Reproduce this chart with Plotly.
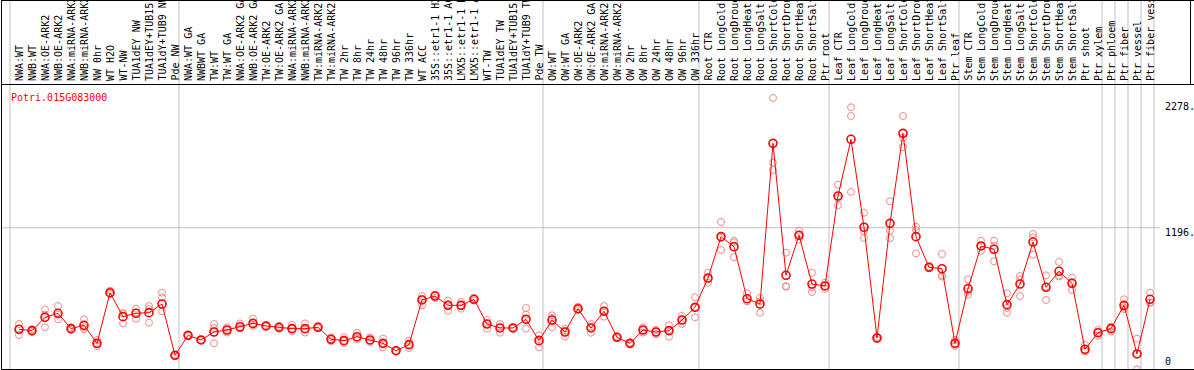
import plotly.graph_objects as go

# ---------------- data ----------------
samples = [
    "NWA:WT", "NWB:WT", "NWA:OE-ARK2", "NWB:OE-ARK2", "NWA:miRNA-ARK2", "NWB:miRNA-ARK2",
    "NW 0hr", "WT H2O", "WT-NW", "TUA1dEY NW", "TUA1dEY+TUB15", "TUA1dY+TUB9 NW", "Pde NW",
    "NWA:WT GA", "NWBWT GA", "TW:WT", "TW:WT GA", "NWA:OE-ARK2 GA", "NWB:OE-ARK2 GA",
    "TW:OE-ARK2", "TW:OE-ARK2 GA", "NWA:miRNA-ARK2", "NWB:miRNA-ARK2", "TW:miRNA-ARK2",
    "TW:miRNA-ARK2", "TW 2hr", "TW 8hr", "TW 24hr", "TW 48hr", "TW 96hr", "TW 336hr",
    "WT ACC", "35S::etr1-1 H2O", "35S::etr1-1 ACC", "LMX5::etr1-1 H2O", "LMX5::etr1-1 ACC",
    "WT-TW", "TUA1dEY TW", "TUA1dEY+TUB15", "TUA1dY+TUB9 TW", "Pde TW",
    "OW:WT", "OW:WT GA", "OW:OE-ARK2", "OW:OE-ARK2 GA", "OW:miRNA-ARK2", "OW:miRNA-ARK2",
    "OW 2hr", "OW 8hr", "OW 24hr", "OW 48hr", "OW 96hr", "OW 336hr",
    "Root CTR", "Root LongCold", "Root LongDrought", "Root LongHeat", "Root LongSalt",
    "Root ShortCold", "Root ShortDrought", "Root ShortHeat", "Root ShortSalt", "Ptr root",
    "Leaf CTR", "Leaf LongCold", "Leaf LongDrought", "Leaf LongHeat", "Leaf LongSalt",
    "Leaf ShortCold", "Leaf ShortDrought", "Leaf ShortHeat", "Leaf ShortSalt", "Ptr leaf",
    "Stem CTR", "Stem LongCold", "Stem LongDrought", "Stem LongHeat", "Stem LongSalt",
    "Stem ShortCold", "Stem ShortDrought", "Stem ShortHeat", "Stem ShortSalt", "Ptr shoot",
    "Ptr xylem", "Ptr phloem", "Ptr fiber", "Ptr vessel", "Ptr fiber vessel",
]

# index of first sample of each group (group separators)
group_starts = [0, 13, 41, 53, 63, 73, 84, 85, 86, 87, 88]

gene = "Potri.015G083000"

mean_vals = [
    289, 277, 396, 432, 295, 325, 164, 616, 402, 432, 438, 515, 57,
    235, 194, 265, 283, 312, 342, 319, 307, 295, 295, 307, 200, 188, 223, 194, 164, 98, 152,
    551, 586, 503, 503, 557, 336, 301, 301, 378, 188,
    372, 265, 473, 301, 450, 218, 164, 283, 265, 277, 372, 485,
    747, 1116, 1026, 562, 515, 1949, 771, 1128, 693, 676,
    1479, 1985, 1200, 212, 1235, 2038, 1116, 843, 830, 164,
    652, 1033, 1003, 509, 693, 1068, 664, 807, 700, 111, 259,
    295, 503, 69, 557,
]

rep1 = [
    336, 289, 467, 497, 307, 378, 194, 634, 432, 473, 497, 616, 60,
    240, 194, 336, 307, 342, 384, 325, 319, 330, 342, 318, 218, 218, 259, 218, 206, 98, 188,
    586, 598, 545, 533, 569, 372, 336, 307, 479, 235,
    414, 295, 491, 336, 497, 225, 170, 307, 283, 325, 408, 575,
    794, 1247, 1080, 610, 569, 2354, 973, 1169, 794, 705,
    1580, 2271, 1330, 220, 1432, 2193, 1205, 850, 961, 194,
    735, 1080, 1080, 610, 765, 1140, 771, 890, 750, 150, 283,
    313, 557, 205, 616,
]

rep2 = [
    237, 265, 307, 378, 283, 307, 140, 604, 342, 384, 348, 575, 50,
    230, 190, 164, 260, 295, 319, 313, 295, 270, 260, 300, 183, 164, 200, 176, 128, 95, 122,
    503, 570, 455, 473, 545, 295, 259, 295, 420, 128,
    307, 223, 460, 259, 402, 212, 160, 259, 247, 223, 337, 396,
    705, 997, 932, 540, 438, 1776, 669, 1090, 622, 650,
    1396, 2193, 1104, 200, 1104, 1914, 967, 836, 771, 140,
    598, 990, 896, 438, 586, 955, 551, 760, 640, 90, 230,
    270, 470, -68, 530,
]

rep3 = [
    295, 277, 420, 420, 295, 290, 158, 610, 432, 440, 470, 450, 62,
    235, 198, 300, 283, 300, 330, 319, 307, 295, 290, 305, 200, 185, 215, 190, 160, 100, 150,
    560, 590, 510, 503, 557, 340, 305, 301, 295, 200,
    390, 275, 470, 305, 450, 218, 164, 283, 265, 283, 372, 485,
    745, 1105, 1066, 540, 540, 1711, 675, 1128, 665, 676,
    1460, 1515, 1165, 215, 1170, 2000, 1175, 843, 760, 160,
    625, 1030, 1035, 480, 730, 1110, 670, 770, 710, 95, 265,
    300, 485, 70, 525,
]

# ---------------- geometry helpers (pixel layout of the original) ----------------
W, H = 1194, 370
ML, MR, MT, MB = 1, 2, 84, 1
PW = W - ML - MR          # plot width in px
PH = H - MT - MB          # plot height in px
PX_PER_COL = 13.0
first_px = 19.0
x0 = -(first_px - ML) / PX_PER_COL
x1 = x0 + PW / PX_PER_COL
Y0_PX = 361.7             # pixel of value 0
PX_PER_UNIT = 134.0 / 1196.0
y_top = (Y0_PX - MT) / PX_PER_UNIT
y_bot = (Y0_PX - (H - MB)) / PX_PER_UNIT


def py(px):  # pixel y -> paper y
    return 1 - (px - MT) / PH


def pxp(px):  # pixel x -> paper x
    return (px - ML) / PW


xs = list(range(len(samples)))

fig = go.Figure()

rep_color = "#ee8c8c"
for reps in (rep1, rep2, rep3):
    fig.add_trace(go.Scatter(
        x=xs, y=reps, mode="markers",
        marker=dict(symbol="circle-open", size=7, color=rep_color, line=dict(width=1, color=rep_color)),
        hoverinfo="skip", showlegend=False,
    ))

fig.add_trace(go.Scatter(
    x=xs, y=mean_vals, mode="lines+markers",
    line=dict(color="#ff0000", width=1),
    marker=dict(symbol="circle-open", size=8, color="#ff0000", line=dict(width=1.6, color="#ff0000")),
    text=samples, showlegend=False,
))

shapes = []
grid = "#c0c0c0"
# vertical group separators (full height, through header)
for k in group_starts:
    xv = k - 9.0 / PX_PER_COL
    shapes.append(dict(type="line", xref="x", yref="paper", x0=xv, x1=xv,
                       y0=py(0), y1=py(H - MB), line=dict(color=grid, width=1), layer="below"))
# horizontal reference line at 1196
shapes.append(dict(type="line", xref="paper", yref="y", x0=0, x1=pxp(1160), y0=1196, y1=1196,
                   line=dict(color=grid, width=1), layer="below"))
# black frame lines
blk = dict(color="black", width=1)
shapes.append(dict(type="line", xref="paper", yref="paper", x0=pxp(1.5), x1=pxp(1.5),
                   y0=py(0), y1=py(369.5), line=blk))
shapes.append(dict(type="line", xref="paper", yref="paper", x0=pxp(1), x1=pxp(1194),
                   y0=py(0.5), y1=py(0.5), line=blk))
shapes.append(dict(type="line", xref="paper", yref="paper", x0=pxp(1), x1=pxp(1194),
                   y0=py(84.5), y1=py(84.5), line=blk))
shapes.append(dict(type="line", xref="paper", yref="paper", x0=pxp(1), x1=pxp(1194),
                   y0=py(369.5), y1=py(369.5), line=blk))
shapes.append(dict(type="line", xref="paper", yref="paper", x0=pxp(1190.5), x1=pxp(1190.5),
                   y0=py(0), y1=py(84.5), line=blk))

annotations = []
mono = "DejaVu Sans Mono"
for i, s in enumerate(samples):
    annotations.append(dict(x=i, y=1, xref="x", yref="paper", text=s, showarrow=False,
                            textangle=-90, xanchor="center", yanchor="bottom", yshift=1,
                            font=dict(family=mono, size=10, color="black")))
annotations.append(dict(x=pxp(9), y=py(90), xref="paper", yref="paper", text=gene,
                        showarrow=False, xanchor="left", yanchor="top",
                        font=dict(family=mono, size=10, color="#ff0000")))
# y value labels
for val, lab, shift in ((2278, "2278.", 0), (1196, "1196.", -5), (0, "0", 0)):
    annotations.append(dict(x=pxp(1163), y=val, xref="paper", yref="y", text=lab,
                            showarrow=False, xanchor="left", yanchor="middle", yshift=shift,
                            font=dict(family=mono, size=10, color="black")))

fig.update_layout(
    width=W, height=H,
    margin=dict(l=ML, r=MR, t=MT, b=MB, pad=0),
    paper_bgcolor="white", plot_bgcolor="white",
    xaxis=dict(range=[x0, x1], visible=False, fixedrange=True),
    yaxis=dict(range=[y_bot, y_top], visible=False, fixedrange=True),
    shapes=shapes, annotations=annotations,
    showlegend=False,
)

fig.write_html("out.html", config={"displayModeBar": False},
               post_script="document.body.style.margin='0';document.body.style.overflow='hidden';")
